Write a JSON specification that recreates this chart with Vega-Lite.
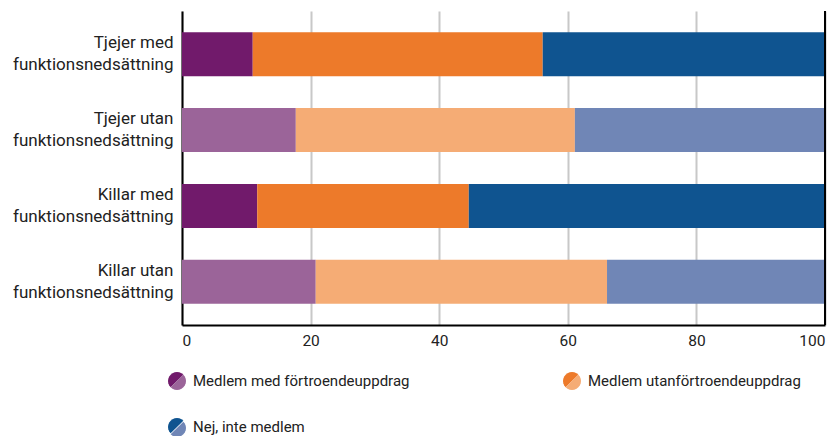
{
  "$schema": "https://vega.github.io/schema/vega-lite/v6.json",
  "width": 643,
  "height": 314,
  "autosize": "none",
  "padding": {"left": 182, "top": 11, "right": 12, "bottom": 111},
  "config": {
    "font": "Roboto",
    "view": {"stroke": null},
    "axis": {"labelFont": "Roboto", "labelColor": "#222222"},
    "legend": {
      "title": null,
      "orient": "none",
      "legendX": -14,
      "legendY": 361,
      "direction": "horizontal",
      "columns": 2,
      "columnPadding": 153,
      "rowPadding": 29,
      "padding": 0,
      "symbolSize": 324,
      "symbolStrokeWidth": 0,
      "labelFont": "Roboto",
      "labelFontSize": 15,
      "labelColor": "#222222",
      "labelOffset": 7,
      "labelLimit": 400
    }
  },
  "data": {
    "values": [
      {"grupp": "Tjejer med funktionsnedsättning", "typ": "med", "svar": "Medlem med förtroendeuppdrag", "ordning": 1, "andel": 11.0},
      {"grupp": "Tjejer med funktionsnedsättning", "typ": "med", "svar": "Medlem utanförtroendeuppdrag", "ordning": 2, "andel": 45.1},
      {"grupp": "Tjejer med funktionsnedsättning", "typ": "med", "svar": "Nej, inte medlem", "ordning": 3, "andel": 43.9},
      {"grupp": "Tjejer utan funktionsnedsättning", "typ": "utan", "svar": "Medlem med förtroendeuppdrag", "ordning": 1, "andel": 17.7},
      {"grupp": "Tjejer utan funktionsnedsättning", "typ": "utan", "svar": "Medlem utanförtroendeuppdrag", "ordning": 2, "andel": 43.4},
      {"grupp": "Tjejer utan funktionsnedsättning", "typ": "utan", "svar": "Nej, inte medlem", "ordning": 3, "andel": 38.9},
      {"grupp": "Killar med funktionsnedsättning", "typ": "med", "svar": "Medlem med förtroendeuppdrag", "ordning": 1, "andel": 11.7},
      {"grupp": "Killar med funktionsnedsättning", "typ": "med", "svar": "Medlem utanförtroendeuppdrag", "ordning": 2, "andel": 32.9},
      {"grupp": "Killar med funktionsnedsättning", "typ": "med", "svar": "Nej, inte medlem", "ordning": 3, "andel": 55.4},
      {"grupp": "Killar utan funktionsnedsättning", "typ": "utan", "svar": "Medlem med förtroendeuppdrag", "ordning": 1, "andel": 20.8},
      {"grupp": "Killar utan funktionsnedsättning", "typ": "utan", "svar": "Medlem utanförtroendeuppdrag", "ordning": 2, "andel": 45.3},
      {"grupp": "Killar utan funktionsnedsättning", "typ": "utan", "svar": "Nej, inte medlem", "ordning": 3, "andel": 33.9}
    ]
  },
  "layer": [
    {
      "transform": [{"filter": "datum.typ === 'med'"}],
      "mark": {"type": "bar"},
      "encoding": {
        "y": {
          "field": "grupp",
          "type": "nominal",
          "sort": ["Tjejer med funktionsnedsättning", "Tjejer utan funktionsnedsättning", "Killar med funktionsnedsättning", "Killar utan funktionsnedsättning"],
          "scale": {"paddingInner": 0.42, "paddingOuter": 0.28},
          "axis": {
            "title": null,
            "ticks": false,
            "domainColor": "#000000",
            "domainWidth": 2,
            "labelPadding": 9,
            "labelFontSize": 17,
            "labelLineHeight": 22,
            "labelOffset": -11,
            "labelExpr": "[replace(datum.label, ' funktionsnedsättning', ''), 'funktionsnedsättning']"
          }
        },
        "x": {
          "field": "andel",
          "type": "quantitative",
          "stack": "zero",
          "scale": {"domain": [0, 100], "nice": false},
          "axis": {
            "title": null,
            "values": [0, 20, 40, 60, 80, 100],
            "grid": true,
            "gridColor": "#c8c8c8",
            "gridWidth": 2,
            "ticks": false,
            "domainColor": "#000000",
            "domainWidth": 2,
            "labelPadding": 8,
            "labelFontSize": 15.5
          }
        },
        "order": {"field": "ordning"},
        "fill": {
          "field": "svar",
          "type": "nominal",
          "scale": {
            "domain": ["Medlem med förtroendeuppdrag", "Medlem utanförtroendeuppdrag", "Nej, inte medlem"],
            "range": ["#711a6b", "#ed7a2a", "#0f5490"]
          },
          "legend": {
            "symbolType": "M0.7071,-0.7071L0.5,-0.866L0.2588,-0.9659L0,-1L-0.2588,-0.9659L-0.5,-0.866L-0.7071,-0.7071L-0.866,-0.5L-0.9659,-0.2588L-1,0L-0.9659,0.2588L-0.866,0.5L-0.7071,0.7071Z"
          }
        }
      }
    },
    {
      "transform": [
        {"filter": "datum.typ === 'utan'"},
        {"calculate": "datum.svar", "as": "svar_utan"}
      ],
      "mark": {"type": "bar"},
      "encoding": {
        "y": {
          "field": "grupp",
          "type": "nominal",
          "sort": ["Tjejer med funktionsnedsättning", "Tjejer utan funktionsnedsättning", "Killar med funktionsnedsättning", "Killar utan funktionsnedsättning"]
        },
        "x": {"field": "andel", "type": "quantitative", "stack": "zero"},
        "order": {"field": "ordning"},
        "color": {
          "field": "svar_utan",
          "type": "nominal",
          "scale": {"range": ["#9b6499", "#f5ac75", "#7086b6"]},
          "legend": {
            "labelOpacity": 0,
            "symbolType": "M0.7071,-0.7071L0.866,-0.5L0.9659,-0.2588L1,0L0.9659,0.2588L0.866,0.5L0.7071,0.7071L0.5,0.866L0.2588,0.9659L0,1L-0.2588,0.9659L-0.5,0.866L-0.7071,0.7071Z"
          }
        }
      }
    },
    {
      "mark": {"type": "rule", "color": "#000000", "strokeWidth": 2},
      "encoding": {"x": {"datum": 100}}
    }
  ]
}
